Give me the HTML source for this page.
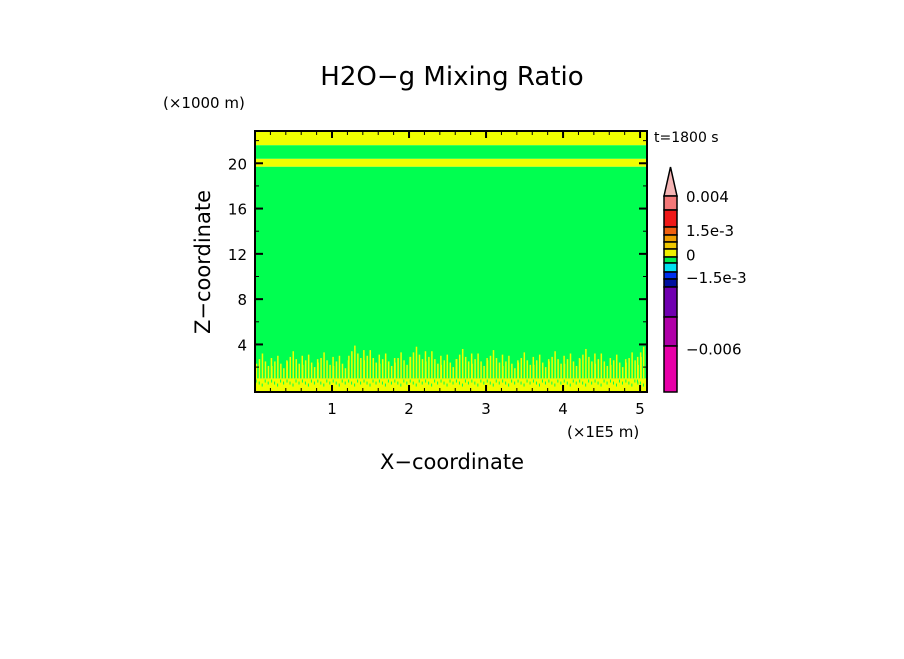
<!DOCTYPE html>
<html><head><meta charset="utf-8"><style>
body{margin:0;background:#fff;}
svg text{font-family:"DejaVu Sans","Liberation Sans",sans-serif;fill:#000;}
</style></head><body>
<svg id="chart" width="904" height="654" xmlns="http://www.w3.org/2000/svg">
<defs><clipPath id="pc"><rect x="255" y="131" width="392" height="261"/></clipPath></defs>
<rect width="904" height="654" fill="#fff"/>
<text x="452" y="85" font-size="26" text-anchor="middle">H2O−g Mixing Ratio</text>
<text x="163" y="108" font-size="15">(×1000 m)</text>
<text x="654" y="142" font-size="14">t=1800 s</text>
<text x="567" y="437" font-size="15">(×1E5 m)</text>
<text x="452" y="469" font-size="21" text-anchor="middle">X−coordinate</text>
<text x="210" y="262" font-size="21" text-anchor="middle" transform="rotate(-90 210 262)">Z−coordinate</text>
<g id="field" clip-path="url(#pc)"></g>
<g id="axes"></g>
<g id="cbar"></g>
</svg>
<script>
const xMin=0, xMax=5.09, zMin=-0.2, zMax=22.85;
const bandZ0=[-0.2, 1.0, 19.7, 20.4, 21.6];
const bandZ1=[1.0, 19.7, 20.4, 21.6, 22.85];
const bandLevel=[1, 0, 1, 0, 1];
const spikeX=[0.1,0.3,0.5,0.7,0.9,1.1,1.3,1.5,1.7,1.9,2.1,2.3,2.5,2.7,2.9,3.1,3.3,3.5,3.7,3.9,4.1,4.3,4.5,4.7,4.9,5.05];
const spikeTop=[3.2,3.0,3.4,3.1,3.3,3.0,3.9,3.5,3.2,3.3,3.8,3.4,3.1,3.6,3.2,3.5,3.0,3.3,3.1,3.4,3.2,3.6,3.2,3.1,3.3,3.8];
const xTicks=[1,2,3,4,5];
const zTicks=[4,8,12,16,20];
const cbColors=["#f47878","#f01818","#f06010","#f0a000","#f0c800","#f0f000","#00f050","#00e0f0","#0030f0","#0010a0","#7000b0","#b000a8","#e800a8"];
const cbLabels=["0.004","1.5e-3","0","−1.5e-3","−0.006"];
const cbLabelIdx=[0,2.4,5.7,8.7,12.05];
const X0=255,X1=647,Y0=392,Y1=131;
const sx=v=>X0+(v-xMin)/(xMax-xMin)*(X1-X0);
const sz=v=>Y0-(v-zMin)/(zMax-zMin)*(Y0-Y1);
const NS="http://www.w3.org/2000/svg";
function mk(t,a,p){const e=document.createElementNS(NS,t);for(const k in a)e.setAttribute(k,a[k]);p.appendChild(e);return e;}
const levelColor=["#00ff50","#f0ff00"];
const F=document.getElementById('field');
bandZ0.forEach((z0,i)=>{
  const r=mk('rect',{x:X0,y:sz(bandZ1[i]),width:X1-X0,height:sz(z0)-sz(bandZ1[i]),fill:levelColor[bandLevel[i]]},F);
  
  
});
const offs=[-7,-4,-1,2,5,8];
const drop=[0.9,0.5,0,0.7,1.1,0.4];
spikeX.forEach((x,i)=>{
  offs.forEach((o,k)=>{
    const h=spikeTop[i]-drop[k];
    const r=mk('rect',{x:sx(x)+o,y:sz(h),width:1.5,height:sz(1.0)-sz(h),fill:levelColor[1]},F);
    
    
  });
  for(let k=0;k<5;k++){
    const g=mk('rect',{x:sx(x)-7+k*3,y:sz(0.9)+(k%3)*2,width:1,height:3,fill:levelColor[0]},F);
    
    }
});
const A=document.getElementById('axes');
const fr=mk('rect',{x:X0,y:Y1,width:X1-X0,height:Y0-Y1,fill:'none',stroke:'#000','stroke-width':2},A);


for(let v=0.2;v<xMax;v+=0.2){const m=Math.abs(v-Math.round(v))<0.01;const L=m?7:4;const x=sx(v);
  mk('line',{x1:x,x2:x,y1:Y0,y2:Y0-L,stroke:'#000','stroke-width':m?2:1},A);
  mk('line',{x1:x,x2:x,y1:Y1,y2:Y1+L,stroke:'#000','stroke-width':m?2:1},A);}
for(let v=2;v<zMax;v+=2){const m=v%4===0;const L=m?8:4;const y=sz(v);
  mk('line',{x1:X0,x2:X0+L,y1:y,y2:y,stroke:'#000','stroke-width':m?2:1},A);
  mk('line',{x1:X1,x2:X1-L,y1:y,y2:y,stroke:'#000','stroke-width':m?2:1},A);}
xTicks.forEach(v=>{const t=mk('text',{x:sx(v),y:414,'font-size':15,'text-anchor':'middle'},A);t.textContent=v;
  
  });
zTicks.forEach(v=>{const t=mk('text',{x:247,y:sz(v)+6,'font-size':15,'text-anchor':'end'},A);t.textContent=v;
  
  });
const C=document.getElementById('cbar');
const cbTop=196,cbX=664,cbW=13;
const segH=[14,17,8,7,7,8,6,9,7,8,30,29,46];
let y=cbTop;
const tri=mk('polygon',{points:`${cbX},${cbTop} ${cbX+cbW/2},167 ${cbX+cbW},${cbTop}`,fill:'#f4b4b4',stroke:'#000','stroke-width':1.5},C);


cbColors.forEach((c,i)=>{const r=mk('rect',{x:cbX,y:y,width:cbW,height:segH[i],fill:c,stroke:'#000','stroke-width':1.5},C);
  
  
  y+=segH[i];});
const segStart=[];let acc=cbTop;segH.forEach(h=>{segStart.push(acc);acc+=h;});
cbLabels.forEach((l,i)=>{const k=Math.floor(cbLabelIdx[i]);const f=cbLabelIdx[i]-k;const yy=segStart[k]+f*segH[k];
  const t=mk('text',{x:686,y:yy+6,'font-size':15},C);t.textContent=l;
  
  });
</script>
</body></html>
